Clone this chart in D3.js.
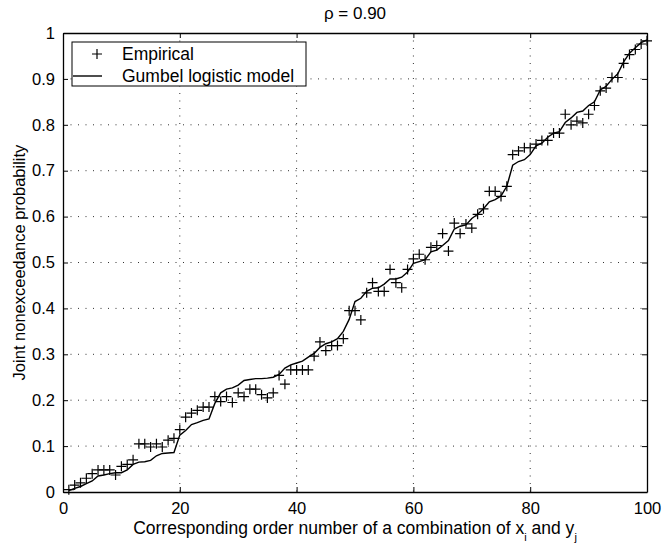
<!DOCTYPE html>
<html>
<head>
<meta charset="utf-8">
<script src="https://cdn.jsdelivr.net/npm/d3@7"></script>
<style>
  body { margin: 0; background: #fff; }
  text { font-family: "Liberation Sans", Arial, Helvetica, sans-serif; fill: #000; }
</style>
</head>
<body>
<div id="chart"></div>
<script>
// empirical joint nonexceedance probability, order numbers 1..100
const orderNumbers = d3.range(1, 101);
const empirical = [
  0.005, 0.015, 0.020, 0.030, 0.040, 0.048, 0.048, 0.048, 0.037, 0.056,
  0.060, 0.070, 0.105, 0.105, 0.098, 0.105, 0.098, 0.113, 0.117, 0.136,
  0.163, 0.172, 0.178, 0.185, 0.185, 0.208, 0.197, 0.208, 0.195, 0.216,
  0.208, 0.224, 0.224, 0.212, 0.205, 0.216, 0.254, 0.235, 0.266, 0.266,
  0.266, 0.266, 0.296, 0.327, 0.308, 0.319, 0.319, 0.334, 0.395, 0.395,
  0.375, 0.434, 0.456, 0.437, 0.437, 0.485, 0.456, 0.445, 0.485, 0.508,
  0.518, 0.506, 0.533, 0.537, 0.563, 0.525, 0.586, 0.563, 0.584, 0.575,
  0.605, 0.617, 0.655, 0.655, 0.644, 0.666, 0.735, 0.743, 0.750, 0.750,
  0.758, 0.766, 0.766, 0.782, 0.782, 0.823, 0.800, 0.808, 0.804, 0.823,
  0.842, 0.874, 0.880, 0.903, 0.903, 0.934, 0.953, 0.964, 0.976, 0.983
];
// Gumbel logistic model
const model = [
  0.003, 0.008, 0.012, 0.018, 0.024, 0.035, 0.037, 0.040, 0.042, 0.042,
  0.048, 0.060, 0.065, 0.066, 0.069, 0.079, 0.084, 0.085, 0.086, 0.124,
  0.134, 0.147, 0.151, 0.156, 0.159, 0.193, 0.216, 0.224, 0.227, 0.233,
  0.243, 0.245, 0.247, 0.247, 0.248, 0.250, 0.256, 0.270, 0.277, 0.281,
  0.285, 0.294, 0.302, 0.315, 0.323, 0.327, 0.334, 0.350, 0.376, 0.415,
  0.422, 0.437, 0.444, 0.445, 0.453, 0.464, 0.464, 0.468, 0.479, 0.498,
  0.502, 0.506, 0.523, 0.527, 0.537, 0.548, 0.573, 0.579, 0.582, 0.596,
  0.605, 0.617, 0.632, 0.637, 0.645, 0.666, 0.712, 0.720, 0.724, 0.735,
  0.754, 0.760, 0.773, 0.782, 0.785, 0.805, 0.815, 0.827, 0.830, 0.842,
  0.850, 0.876, 0.884, 0.899, 0.911, 0.937, 0.956, 0.968, 0.979, 0.985
];
const xTicks = [0, 20, 40, 60, 80, 100];
const yTicks = [0, 0.1, 0.2, 0.3, 0.4, 0.5, 0.6, 0.7, 0.8, 0.9, 1];
const legendLabels = ["Empirical", "Gumbel logistic model"];

const W = 672, H = 551;
const margin = {top: 33, right: 25, bottom: 59, left: 63};
const width = W - margin.left - margin.right,
      height = H - margin.top - margin.bottom;

const svg = d3.select("#chart").append("svg")
    .attr("width", W)
    .attr("height", H);

const g = svg.append("g")
    .attr("transform", "translate(" + margin.left + "," + margin.top + ")");

const x = d3.scaleLinear().domain([0, 100]).range([0, width]);
const y = d3.scaleLinear().domain([0, 1]).range([height, 0]);

// dotted grid
g.append("g").selectAll("line")
    .data(xTicks.slice(1, -1))
    .enter().append("line")
        .attr("x1", d => x(d)).attr("x2", d => x(d))
        .attr("y1", 0).attr("y2", height)
        .attr("stroke", "#333").attr("stroke-width", 1)
        .attr("stroke-dasharray", "1,6.5");
g.append("g").selectAll("line")
    .data(yTicks.slice(1, -1))
    .enter().append("line")
        .attr("x1", 0).attr("x2", width)
        .attr("y1", d => y(d)).attr("y2", d => y(d))
        .attr("stroke", "#333").attr("stroke-width", 1)
        .attr("stroke-dasharray", "1,6.5");

// axes, ticks inward like matlab
const fmtY = d => d === 0 || d === 1 ? String(d) : d3.format(".1f")(d);
const axB = g.append("g").attr("transform", "translate(0," + height + ")")
    .call(d3.axisBottom(x).tickValues(xTicks).tickSize(-5).tickPadding(10).tickSizeOuter(0));
const axT = g.append("g")
    .call(d3.axisTop(x).tickValues(xTicks).tickSize(-5).tickFormat("").tickSizeOuter(0));
const axL = g.append("g")
    .call(d3.axisLeft(y).tickValues(yTicks).tickSize(-5).tickPadding(8).tickFormat(fmtY).tickSizeOuter(0));
const axR = g.append("g").attr("transform", "translate(" + width + ",0)")
    .call(d3.axisRight(y).tickValues(yTicks).tickSize(-5).tickFormat("").tickSizeOuter(0));

[axB, axT, axL, axR].forEach(a => {
    a.select(".domain").attr("stroke", "#000").attr("stroke-width", 1.3);
    a.selectAll(".tick line").attr("stroke", "#000").attr("stroke-width", 1);
    a.selectAll("text").attr("font-size", 16.5).style("font-family", '"Liberation Sans", Arial, sans-serif').attr("fill", "#000");
});

// model line
const line = d3.line()
    .x((d, i) => x(orderNumbers[i]))
    .y(d => y(d));
g.append("path")
    .datum(model)
    .attr("fill", "none")
    .attr("stroke", "#000")
    .attr("stroke-width", 1.4)
    .attr("d", line);

// empirical "+" markers
const s = 5;
g.append("g").selectAll("path")
    .data(empirical)
    .enter().append("path")
        .attr("d", (d, i) => {
            const cx = x(orderNumbers[i]), cy = y(d);
            return "M" + (cx - s) + "," + cy + "H" + (cx + s) + "M" + cx + "," + (cy - s) + "V" + (cy + s);
        })
        .attr("stroke", "#000")
        .attr("stroke-width", 1.2)
        .attr("fill", "none");

// legend
const lg = g.append("g").attr("transform", "translate(9,9)");
lg.append("rect")
    .attr("width", 234).attr("height", 44)
    .attr("fill", "#fff").attr("stroke", "#000").attr("stroke-width", 1);
lg.append("path")
    .attr("d", "M" + (25 - s) + ",12H" + (25 + s) + "M25," + (12 - s) + "V" + (12 + s))
    .attr("stroke", "#000").attr("stroke-width", 1.2);
lg.append("line")
    .attr("x1", 1).attr("x2", 30).attr("y1", 34).attr("y2", 34)
    .attr("stroke", "#000").attr("stroke-width", 1.4);
lg.selectAll("text.lab")
    .data(legendLabels)
    .enter().append("text")
        .attr("class", "lab")
        .attr("x", 50)
        .attr("y", (d, i) => 18 + i * 22)
        .attr("font-size", 17.5)
        .text(d => d);

// title and axis labels
svg.append("text")
    .attr("x", margin.left + width / 2).attr("y", 19)
    .attr("text-anchor", "middle").attr("font-size", 17)
    .text("ρ = 0.90");

const xl = svg.append("text")
    .attr("x", margin.left + width / 2).attr("y", 534)
    .attr("text-anchor", "middle").attr("font-size", 17.5);
xl.append("tspan").text("Corresponding order number of a combination of x");
xl.append("tspan").attr("dy", 7).attr("font-size", 11).text("i");
xl.append("tspan").attr("dy", -7).text(" and y");
xl.append("tspan").attr("dy", 7).attr("font-size", 11).text("j");

svg.append("text")
    .attr("transform", "translate(25," + (margin.top + height / 2) + ") rotate(-90)")
    .attr("text-anchor", "middle").attr("font-size", 16.5)
    .text("Joint nonexceedance probability");
</script>
</body>
</html>
